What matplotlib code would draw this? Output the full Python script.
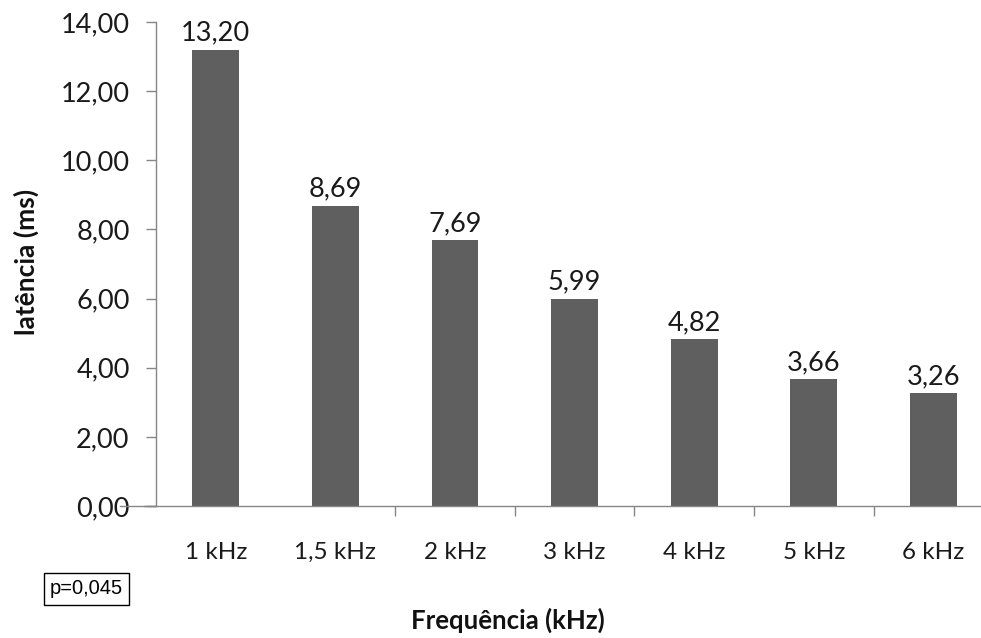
import matplotlib
matplotlib.use("Agg")
import matplotlib.pyplot as plt
from matplotlib.ticker import FixedLocator, FuncFormatter

categories = ["1 kHz", "1,5 kHz", "2 kHz", "3 kHz", "4 kHz", "5 kHz", "6 kHz"]
latency = [13.20, 8.69, 7.69, 5.99, 4.82, 3.66, 3.26]
y_ticks = [0, 2, 4, 6, 8, 10, 12, 14]

W, H = 981, 638
fig = plt.figure(figsize=(W / 100, H / 100), dpi=100)

# axes box in pixel terms: left spine at 156, category width ~119.6 px
left, bottom, top = 156, 506, 22
cat_w = 119.6
right = left + 7 * cat_w
ax = fig.add_axes([left / W, 1 - bottom / H, (right - left) / W, (bottom - top) / H])

font = "Lato"
bar_color = "#5f5f5f"
axis_color = "#868686"

x = list(range(len(categories)))
ax.bar(x, latency, width=0.39, color=bar_color, zorder=2)

for xi, v in zip(x, latency):
    ax.annotate(f"{v:.2f}".replace(".", ","), (xi, v), xytext=(0, 3),
                textcoords="offset points", ha="center", va="bottom",
                fontsize=19.5, family=font, color="#1a1a1a")

ax.set_xlim(-0.5, 6.5)
ax.set_ylim(0, 14)

ax.yaxis.set_major_locator(FixedLocator(y_ticks))
ax.yaxis.set_major_formatter(FuncFormatter(lambda v, p: f"{v:.2f}".replace(".", ",")))
ax.tick_params(axis="y", length=7, width=1, color=axis_color, pad=12,
               labelsize=19.5, labelcolor="#1a1a1a")

ax.set_xticks(x)
ax.set_xticklabels(categories)
ax.tick_params(axis="x", which="major", length=0, pad=26, labelsize=17.5,
               labelcolor="#1a1a1a")
ax.set_xticks([1.5, 2.5, 3.5, 4.5, 5.5, 6.5], minor=True)
ax.tick_params(axis="x", which="minor", length=7, width=1, color=axis_color)

for lbl in ax.get_xticklabels() + ax.get_yticklabels():
    lbl.set_family(font)

for s in ["top", "right"]:
    ax.spines[s].set_visible(False)
for s in ["left", "bottom"]:
    ax.spines[s].set_color(axis_color)
    ax.spines[s].set_linewidth(1)
ax.spines["bottom"].set_bounds(-0.8, 7.5)
ax.spines["bottom"].set_clip_on(False)

# extend baseline past the spine a little on the left
ax.plot([-0.5 - 12 / cat_w, -0.5], [0, 0], color=axis_color, lw=1, clip_on=False)

fig.text(26 / W, 1 - 262 / H, "latência (ms)", rotation=90, ha="center", va="center",
         fontsize=19, fontweight="bold", family=font, color="#111111")
fig.text(508 / W, 1 - 620 / H, "Frequência (kHz)", ha="center", va="center",
         fontsize=18.5, fontweight="bold", family=font, color="#111111")

fig.text(86.5 / W, 1 - 589 / H, "p=0,045", ha="center", va="center",
         fontsize=14.5, family="Liberation Sans", color="#000000",
         bbox=dict(boxstyle="square,pad=0.3", facecolor="white",
                   edgecolor="#000000", linewidth=1))

fig.savefig("out.png", dpi=100)
